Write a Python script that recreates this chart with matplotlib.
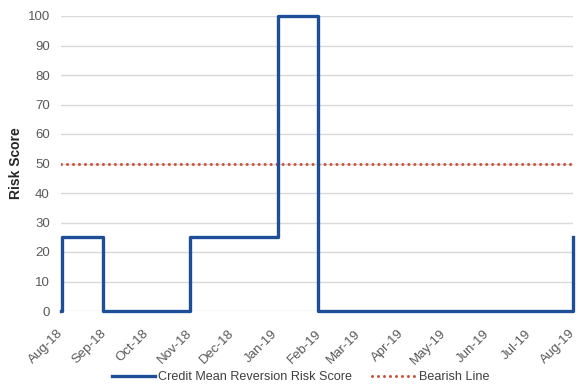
import matplotlib
matplotlib.use("Agg")
import matplotlib.pyplot as plt
import datetime

plt.rcParams["font.family"] = ["Liberation Sans", "DejaVu Sans"]

# dates where the score changes (held until the next date)
score_dates = ["2018-08-01", "2018-08-02", "2018-08-31", "2018-11-01",
               "2019-01-03", "2019-01-31", "2019-08-01"]
score_values = [0, 25, 0, 25, 100, 0, 25]

bearish_dates = ["2018-08-01", "2019-08-01"]
bearish_values = [50, 50]

month_ticks = ["2018-08-01", "2018-09-01", "2018-10-01", "2018-11-01", "2018-12-01",
               "2019-01-01", "2019-02-01", "2019-03-01", "2019-04-01", "2019-05-01",
               "2019-06-01", "2019-07-01", "2019-08-01"]
month_labels = ["Aug-18", "Sep-18", "Oct-18", "Nov-18", "Dec-18", "Jan-19", "Feb-19",
                "Mar-19", "Apr-19", "May-19", "Jun-19", "Jul-19", "Aug-19"]

def to_dates(lst):
    return [datetime.datetime.strptime(d, "%Y-%m-%d") for d in lst]

fig = plt.figure(figsize=(5.79, 3.91), dpi=100)
ax = fig.add_axes([61 / 579, 80 / 391, 512 / 579, 295 / 391])

ax.plot(to_dates(score_dates), score_values, drawstyle="steps-post", color="#1f4e99",
        lw=2.4, label="Credit Mean Reversion Risk Score", clip_on=False, zorder=3)
ax.plot(to_dates(bearish_dates), bearish_values, color="#c8553d", lw=2.2,
        linestyle=(0, (0.01, 1.95)), dash_capstyle="round", label="Bearish Line", zorder=2)

ax.set_xlim(to_dates(["2018-08-01"])[0], to_dates(["2019-08-01"])[0])
ax.set_ylim(0, 100)
ax.set_yticks(range(0, 101, 10))
ax.set_xticks(to_dates(month_ticks))
ax.set_xticklabels(month_labels, rotation=45, ha="right", va="center", rotation_mode="anchor")

ax.grid(axis="y", color="#d9d9d9", lw=1)
ax.set_axisbelow(True)
for s in ax.spines.values():
    s.set_visible(False)
ax.tick_params(length=0, labelsize=9.5, labelcolor="#595959")
ax.tick_params(axis="y", pad=8)
ax.tick_params(axis="x", pad=15)

ax.set_ylabel("Risk Score", fontsize=10, fontweight="bold", color="#262626")
ax.yaxis.set_label_coords(-38 / 512, 0.5)

ax.legend(loc="center", bbox_to_anchor=(0.468, -0.225), ncol=2, frameon=False,
          fontsize=9.1, handlelength=3.4, handletextpad=0.25, columnspacing=1.6,
          labelcolor="#404040")

fig.savefig("out.png", dpi=100)
